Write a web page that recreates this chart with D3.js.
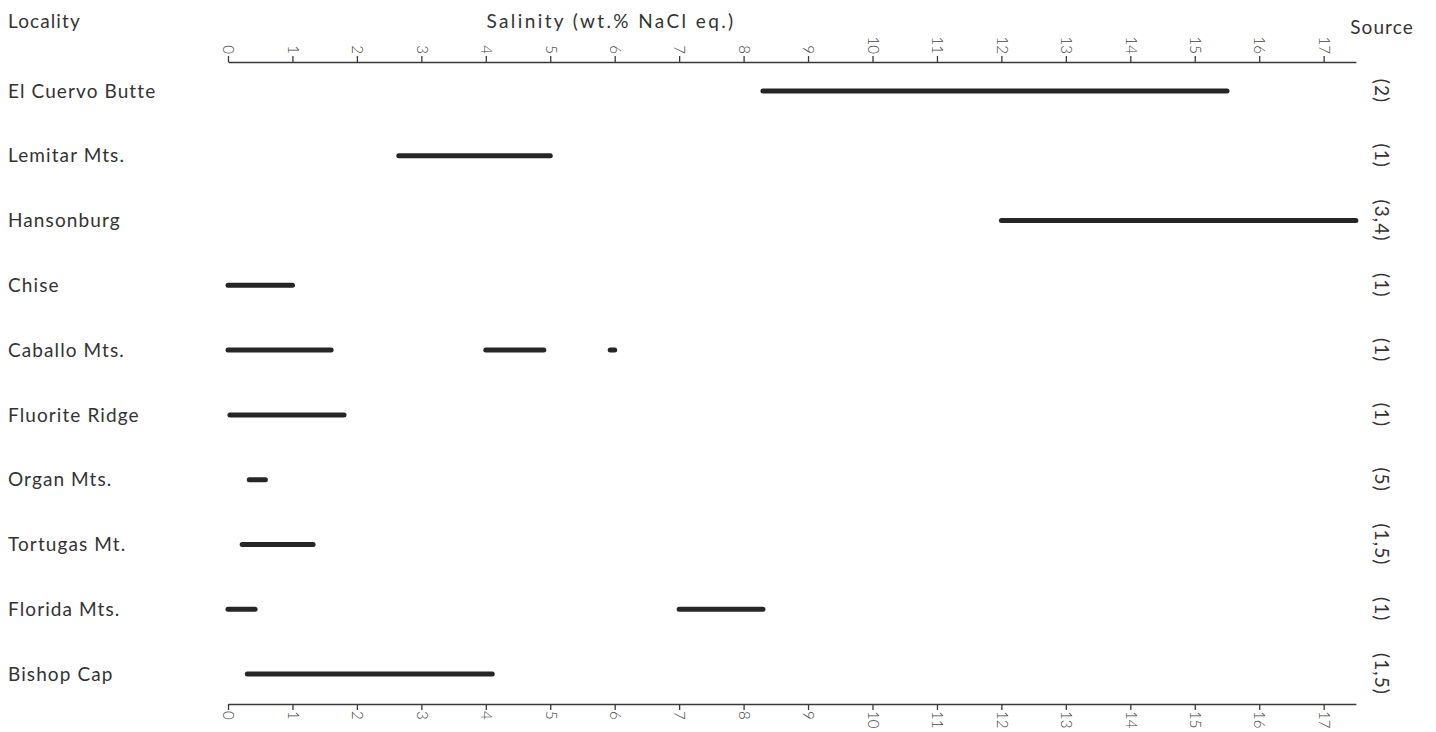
<!DOCTYPE html>
<html>
<head>
<meta charset="utf-8">
<script src="https://cdn.jsdelivr.net/npm/d3@7"></script>
<style>
  body { margin: 0; background: #fff; }
  svg text { font-family: Lato, "Noto Sans", sans-serif; fill: #333; }
  .label { font-size: 19px; letter-spacing: 1.1px; font-weight: 400; }
  .title { letter-spacing: 2.4px; }
  .axis path, .axis line { stroke: #3a3a3a; stroke-width: 1.3; }
  .axis text { font-size: 15px; fill: #444; font-weight: 300; }
</style>
</head>
<body>
<div id="chart"></div>
<script>
// localities, top to bottom
var localities = ["El Cuervo Butte", "Lemitar Mts.", "Hansonburg", "Chise", "Caballo Mts.",
    "Fluorite Ridge", "Organ Mts.", "Tortugas Mt.", "Florida Mts.", "Bishop Cap"];

var sources = ["(2)", "(1)", "(3,4)", "(1)", "(1)", "(1)", "(5)", "(1,5)", "(1)", "(1,5)"];

// salinity ranges, wt.% NaCl eq. (one or more segments per locality)
var salinityRanges = [
    [[8.3, 15.5]],
    [[2.65, 5.0]],
    [[12.0, 17.5]],
    [[0, 1.0]],
    [[0, 1.6], [4.0, 4.9], [5.93, 6.0]],
    [[0.03, 1.8]],
    [[0.33, 0.58]],
    [[0.22, 1.32]],
    [[0, 0.42], [7.0, 8.3]],
    [[0.3, 4.1]]
];

var tickValues = d3.range(0, 18);

var W = 1436, H = 732;

var svg = d3.select("#chart")
    .append("svg")
    .attr("width", W)
    .attr("height", H);

var xScale = d3.scaleLinear().domain([0, 17.5]).range([228, 228 + 17.5 * 64.45]);
var yScale = d3.scalePoint().domain(localities).range([91, 674]);

// top axis
var topAxis = svg.append("g")
    .attr("class", "axis")
    .attr("transform", "translate(0,62)")
    .call(d3.axisTop(xScale).tickValues(tickValues).tickSize(6).tickSizeOuter(0));

topAxis.selectAll("text")
    .attr("transform", "rotate(90)")
    .attr("x", -8)
    .attr("y", 0)
    .attr("dy", "0.35em")
    .attr("text-anchor", "end");

// bottom axis
var bottomAxis = svg.append("g")
    .attr("class", "axis")
    .attr("transform", "translate(0,704)")
    .call(d3.axisBottom(xScale).tickValues(tickValues).tickSize(6).tickSizeOuter(0));

bottomAxis.selectAll("text")
    .attr("transform", "rotate(90)")
    .attr("x", 7)
    .attr("y", 0)
    .attr("dy", "0.35em")
    .attr("text-anchor", "start");

// headers
svg.append("text").attr("class", "label").attr("x", 8).attr("y", 28).text("Locality");
svg.append("text").attr("class", "label title").attr("x", 611).attr("y", 28)
    .attr("text-anchor", "middle").text("Salinity (wt.% NaCl eq.)");
svg.append("text").attr("class", "label").attr("x", 1382).attr("y", 34)
    .attr("text-anchor", "middle").text("Source");

// locality labels
svg.selectAll("text.loc")
    .data(localities)
    .enter()
    .append("text")
    .attr("class", "label loc")
    .attr("x", 8)
    .attr("y", function(d) { return yScale(d); })
    .attr("dy", "0.35em")
    .text(function(d) { return d; });

// source labels, rotated
svg.selectAll("text.src")
    .data(sources)
    .enter()
    .append("text")
    .attr("class", "label src")
    .attr("text-anchor", "middle")
    .attr("dy", "0.35em")
    .attr("transform", function(d, i) {
        return "translate(1382," + yScale(localities[i]) + ") rotate(90)";
    })
    .text(function(d) { return d; });

// salinity bars
var segs = [];
salinityRanges.forEach(function(r, i) {
    r.forEach(function(s) { segs.push({loc: localities[i], lo: s[0], hi: s[1]}); });
});

svg.selectAll("line.bar")
    .data(segs)
    .enter()
    .append("line")
    .attr("class", "bar")
    .attr("x1", function(d) { return xScale(d.lo); })
    .attr("x2", function(d) { return xScale(d.hi); })
    .attr("y1", function(d) { return yScale(d.loc); })
    .attr("y2", function(d) { return yScale(d.loc); })
    .attr("stroke", "#262626")
    .attr("stroke-width", 5)
    .attr("stroke-linecap", "round");
</script>
</body>
</html>
